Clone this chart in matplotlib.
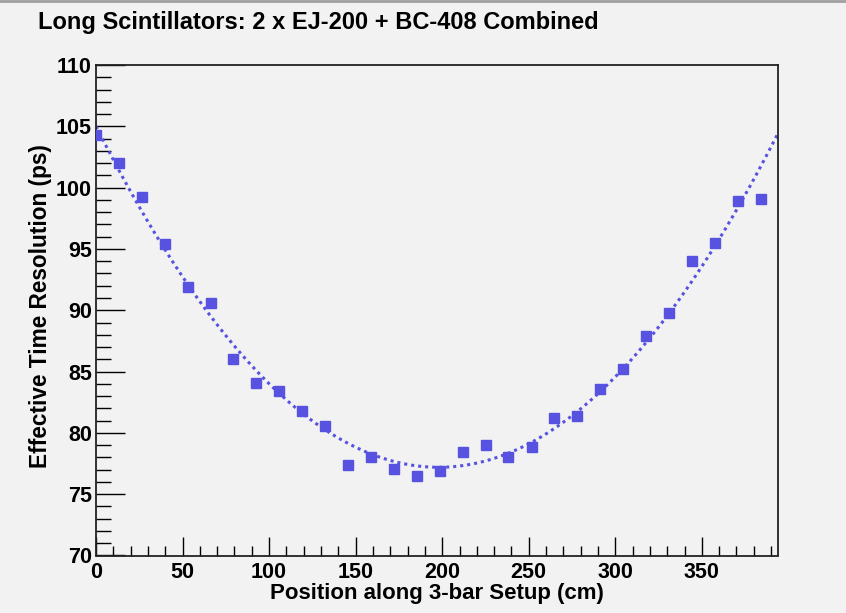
import numpy as np
import matplotlib
matplotlib.use("Agg")
import matplotlib.pyplot as plt
from matplotlib.ticker import MultipleLocator

positions = [0.0, 13.2, 26.5, 39.7, 53.0, 66.2, 79.4, 92.7, 105.9, 119.2,
             132.4, 145.6, 158.9, 172.1, 185.4, 198.6, 211.8, 225.1, 238.3, 251.6,
             264.8, 278.0, 291.3, 304.5, 317.8, 331.0, 344.2, 357.5, 370.7, 384.0]
resolution = [104.3, 102.0, 99.2, 95.4, 91.9, 90.6, 86.0, 84.1, 83.4, 81.8,
              80.55, 77.4, 78.05, 77.05, 76.45, 76.9, 78.45, 79.0, 78.05, 78.85,
              81.25, 81.4, 83.6, 85.2, 87.9, 89.8, 94.0, 95.5, 98.9, 99.05]

title = "Long Scintillators: 2 x EJ-200 + BC-408 Combined"
xlabel = "Position along 3-bar Setup (cm)"
ylabel = "Effective Time Resolution (ps)"

bg = "#f2f2f2"
col = "#5753e0"
plt.rcParams['font.family'] = ['Liberation Sans', 'DejaVu Sans']

fig = plt.figure(figsize=(8.46, 6.13), dpi=100, facecolor=bg)
ax = fig.add_axes([96/846, 1-555.5/613, (778-96)/846, (555.5-65)/613])
ax.set_facecolor(bg)

x = np.array(positions)
y = np.array(resolution)
coef = np.polyfit(x, y, 2)
xf = np.linspace(0, 394, 400)
ax.plot(xf, np.polyval(coef, xf), linestyle=(0, (1, 1.3)), color=col, lw=2.2, zorder=2)
ax.plot(x, y, linestyle='none', marker='s', ms=7.2, color=col, mec=col, zorder=3)

ax.set_xlim(0, 394)
ax.set_ylim(70, 110)
ax.xaxis.set_major_locator(MultipleLocator(50))
ax.xaxis.set_minor_locator(MultipleLocator(10))
ax.yaxis.set_major_locator(MultipleLocator(5))
ax.yaxis.set_minor_locator(MultipleLocator(1))
ax.tick_params(axis='x', which='major', direction='in', length=14, width=1, pad=4.5)
ax.tick_params(axis='x', which='minor', direction='in', length=7, width=1)
ax.tick_params(axis='y', which='major', direction='in', length=21, width=1, pad=3)
ax.tick_params(axis='y', which='minor', direction='in', length=11, width=1)
ax.tick_params(labelsize=15.5, colors='black')
for lab in ax.get_xticklabels() + ax.get_yticklabels():
    lab.set_fontweight('bold')
for s in ax.spines.values():
    s.set_linewidth(1.3)
    s.set_color('#222222')

fig.text(38/846, 1-22/613, title, fontsize=17, fontweight='bold', va='center', ha='left')
fig.text(437/846, 1-593/613, xlabel, fontsize=16, fontweight='bold', va='center', ha='center')
fig.text(41/846, 1-306/613, ylabel, fontsize=16.3, fontweight='bold', va='center', ha='center', rotation=90)

fig.add_artist(plt.Line2D([0, 1], [1-1/613, 1-1/613], color='#a0a0a0', lw=2, transform=fig.transFigure))

fig.savefig("out.png", dpi=100, facecolor=bg)
